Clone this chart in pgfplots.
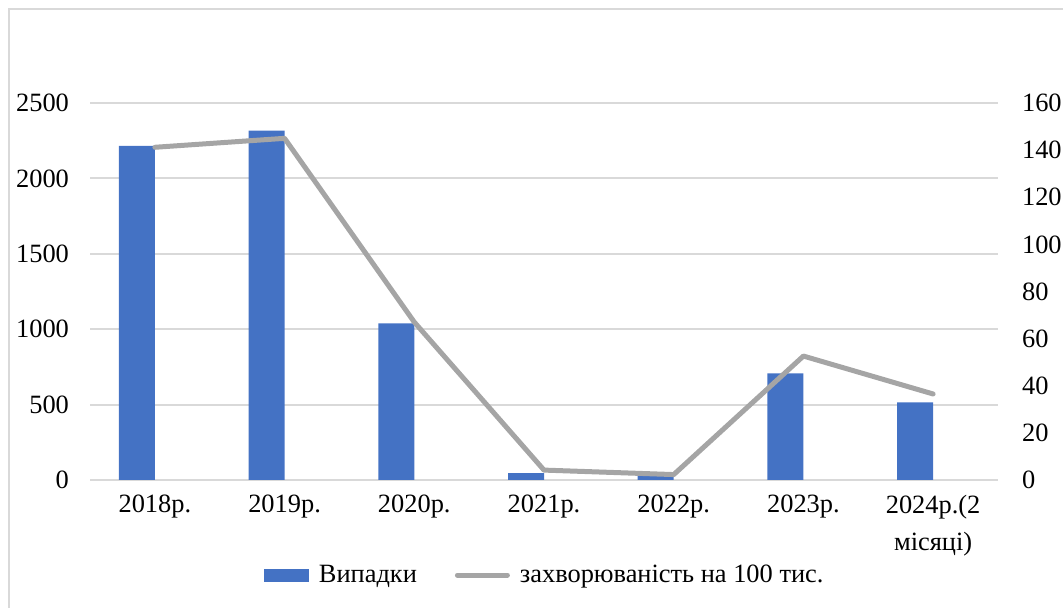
\documentclass[border=0pt]{standalone}
\usepackage{fontspec}
\setmainfont{Liberation Serif}
\usepackage{pgfplots}
\pgfplotsset{compat=1.18}

\definecolor{barblue}{HTML}{4472C4}
\definecolor{linegray}{HTML}{A5A5A5}
\definecolor{gridgray}{HTML}{D9D9D9}

\pgfplotstableread{
x cases
0 2215
1 2316
2 1039
3 46
4 25
5 707
6 515
}\casestable

\pgfplotstableread{
x rate
0 141.2
1 145.0
2 67.0
3 4.2
4 2.3
5 52.6
6 36.5
}\ratetable

\pgfplotsset{
  common/.style={
    scale only axis,
    width=454pt, height=188.5pt,
    at={(45pt,64pt)}, anchor=south west,
    xmin=-0.5, xmax=6.5,
    ymin=0,
    major tick length=0pt,
    axis line style={draw=none},
    tick label style={font=\fontsize{13.2}{15}\selectfont},
    /pgf/number format/assume math mode=true,
    /pgf/number format/1000 sep={},
  }
}

\begin{document}
\begin{tikzpicture}
\path[use as bounding box] (0,0) rectangle (531.5pt,304pt);
\draw[gridgray, line width=1pt] (4.5pt,0) -- (4.5pt,299.5pt) -- (531.5pt,299.5pt);

\begin{axis}[
  common,
  ymax=2500,
  ytick={0,500,...,2500},
  ymajorgrids,
  major grid style={draw=gridgray, line width=1pt},
  xtick={0,...,6},
  xticklabels={2018р.,2019р.,2020р.,2021р.,2022р.,2023р.,{2024р.(2\\[3.5pt]місяці)}},
  xticklabel style={align=center, yshift=-4pt},
  yticklabel style={xshift=-7pt},
]
\addplot[ybar, bar width=18pt, bar shift=-9pt, fill=barblue, draw=none] table[x=x, y=cases] {\casestable};
\end{axis}

\begin{axis}[
  common,
  ymax=160,
  ytick={0,20,...,160},
  axis y line*=right,
  hide x axis,
  yticklabel style={xshift=8.5pt},
  legend columns=2,
  legend style={at={(0.502,-0.252)}, anchor=center, draw=none, fill=none,
    font=\fontsize{13.2}{15}\selectfont,
    /tikz/every odd column/.append style={column sep=3pt},
    /tikz/every even column/.append style={column sep=17pt}},
]
\addlegendimage{legend image code/.code={\fill[barblue] (0pt,-3pt) rectangle (22pt,3pt);}}
\addlegendentry{Випадки}
\addplot[linegray, line width=2.5pt, line cap=round, line join=round,
  legend image code/.code={\draw[linegray, line width=2.5pt, line cap=round] (0pt,0pt) -- (25pt,0pt);}]
  table[x=x, y=rate] {\ratetable};
\addlegendentry{захворюваність на 100 тис.}
\end{axis}
\end{tikzpicture}
\end{document}
